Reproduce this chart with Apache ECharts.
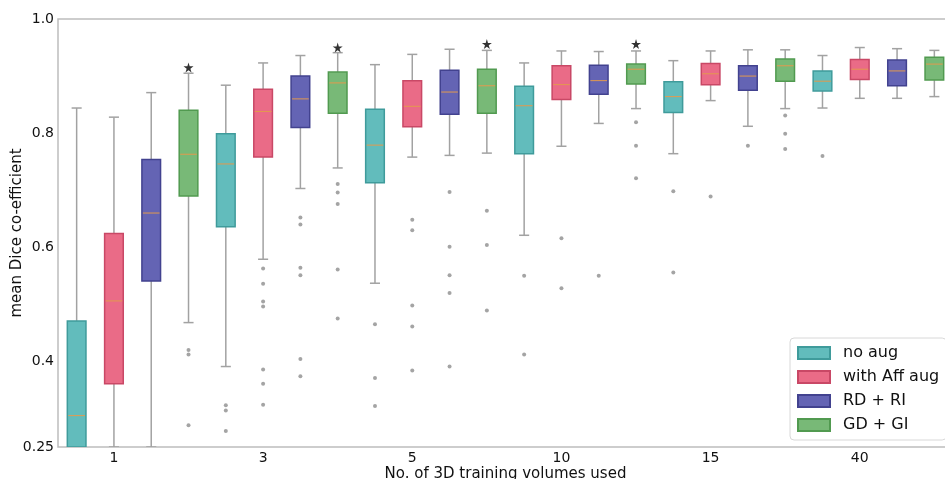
<!DOCTYPE html>
<html>
<head>
<meta charset="utf-8">
<script src="https://cdn.jsdelivr.net/npm/echarts@6/dist/echarts.min.js"></script>
<style>
html, body { margin: 0; padding: 0; background: #fff; }
#main { width: 945px; height: 479px; }
</style>
</head>
<body>
<div id="main"></div>
<script>
var volumes = ['1', '3', '5', '10', '15', '40'];
var methods = ['no aug', 'with Aff aug', 'RD + RI', 'GD + GI'];
var yTicks = [0.25, 0.4, 0.6, 0.8, 1.0];

// [min, Q1, median, Q3, max] for each training-volume count
var noAug = [
	[0.25, 0.25, 0.305, 0.471, 0.844],
	[0.391, 0.636, 0.746, 0.799, 0.884],
	[0.537, 0.713, 0.779, 0.842, 0.920],
	[0.621, 0.764, 0.848, 0.882, 0.923],
	[0.764, 0.836, 0.864, 0.890, 0.927],
	[0.844, 0.874, 0.891, 0.909, 0.936]
];
var withAff = [
	[0.25, 0.361, 0.506, 0.624, 0.828],
	[0.579, 0.758, 0.838, 0.877, 0.923],
	[0.758, 0.811, 0.847, 0.892, 0.938],
	[0.777, 0.859, 0.885, 0.918, 0.944],
	[0.857, 0.885, 0.904, 0.922, 0.944],
	[0.861, 0.894, 0.912, 0.929, 0.950]
];
var rdRi = [
	[0.25, 0.541, 0.660, 0.754, 0.871],
	[0.703, 0.810, 0.860, 0.900, 0.936],
	[0.761, 0.833, 0.872, 0.910, 0.947],
	[0.817, 0.868, 0.892, 0.919, 0.943],
	[0.812, 0.875, 0.900, 0.918, 0.946],
	[0.861, 0.883, 0.909, 0.928, 0.948]
];
var gdGi = [
	[0.468, 0.690, 0.763, 0.840, 0.905],
	[0.739, 0.835, 0.888, 0.907, 0.941],
	[0.765, 0.835, 0.883, 0.912, 0.945],
	[0.843, 0.886, 0.912, 0.921, 0.944],
	[0.843, 0.891, 0.918, 0.930, 0.946],
	[0.864, 0.893, 0.921, 0.933, 0.945]
];

// outliers: [volume index, value]
var noAugOut = [[1, 0.323], [1, 0.314], [1, 0.278], [2, 0.465], [2, 0.371], [2, 0.322],
	[3, 0.550], [3, 0.412], [4, 0.698], [4, 0.556], [5, 0.760]];
var withAffOut = [[1, 0.563], [1, 0.536], [1, 0.505], [1, 0.496], [1, 0.386], [1, 0.361], [1, 0.324],
	[2, 0.648], [2, 0.630], [2, 0.498], [2, 0.461], [2, 0.384], [3, 0.616], [3, 0.528], [4, 0.689]];
var rdRiOut = [[1, 0.652], [1, 0.640], [1, 0.564], [1, 0.551], [1, 0.404], [1, 0.374],
	[2, 0.697], [2, 0.601], [2, 0.551], [2, 0.520], [2, 0.391], [3, 0.550], [4, 0.778]];
var gdGiOut = [[0, 0.420], [0, 0.412], [0, 0.288], [1, 0.711], [1, 0.696], [1, 0.676], [1, 0.561], [1, 0.475],
	[2, 0.664], [2, 0.604], [2, 0.489], [3, 0.819], [3, 0.778], [3, 0.721], [4, 0.831], [4, 0.799], [4, 0.772]];

// significance stars over GD + GI: [volume index, value]
var stars = [[0, 0.915], [1, 0.950], [2, 0.956], [3, 0.956]];

var stats = [noAug, withAff, rdRi, gdGi];
var outliers = [noAugOut, withAffOut, rdRiOut, gdGiOut];

var fills = ['#62bcbc', '#ea6b87', '#6464b4', '#78b977'];
var borders = ['#3f9b9b', '#c94866', '#42428f', '#519a50'];

var slots = [];
volumes.forEach(function (v) {
	methods.forEach(function (m) {
		slots.push(v + ' ' + m);
	});
});

function renderBox(params, api) {
	var i = api.value(0);
	var lo = api.coord([i, api.value(1)]);
	var q1 = api.coord([i, api.value(2)]);
	var med = api.coord([i, api.value(3)]);
	var q3 = api.coord([i, api.value(4)]);
	var hi = api.coord([i, api.value(5)]);
	var slot = api.size([1, 0])[0];
	var bw = slot * 0.5;
	var cw = slot * 0.27;
	var x = lo[0];
	var s = params.seriesIndex;
	var whisk = { stroke: '#a2a2a2', lineWidth: 1.5 };
	return {
		type: 'group',
		children: [
			{ type: 'line', shape: { x1: x, y1: hi[1], x2: x, y2: q3[1] }, style: whisk },
			{ type: 'line', shape: { x1: x, y1: q1[1], x2: x, y2: lo[1] }, style: whisk },
			{ type: 'line', shape: { x1: x - cw / 2, y1: hi[1], x2: x + cw / 2, y2: hi[1] }, style: whisk },
			{ type: 'line', shape: { x1: x - cw / 2, y1: lo[1], x2: x + cw / 2, y2: lo[1] }, style: whisk },
			{
				type: 'rect',
				shape: { x: x - bw / 2, y: q3[1], width: bw, height: q1[1] - q3[1] },
				style: { fill: fills[s], stroke: borders[s], lineWidth: 1.5 }
			},
			{ type: 'line', shape: { x1: x - bw / 2 + 1, y1: med[1], x2: x + bw / 2 - 1, y2: med[1] }, style: { stroke: '#e39a4e', lineWidth: 1 } }
		]
	};
}

var series = [];
methods.forEach(function (m, mi) {
	series.push({
		name: m,
		type: 'custom',
		clip: true,
		renderItem: renderBox,
		itemStyle: { color: fills[mi], borderColor: borders[mi], borderWidth: 1 },
		encode: { x: 0, y: [1, 2, 3, 4, 5] },
		data: stats[mi].map(function (d, gi) {
			return [gi * 4 + mi].concat(d);
		}),
		z: 3
	});
});
methods.forEach(function (m, mi) {
	series.push({
		name: 'outliers ' + m,
		type: 'scatter',
		symbol: 'circle',
		symbolSize: 4,
		itemStyle: { color: '#8d8d8d' },
		data: outliers[mi].map(function (d) {
			return [d[0] * 4 + mi, d[1]];
		}),
		z: 2
	});
});
series.push({
	name: 'significant',
	type: 'scatter',
	symbol: 'path://M50,0 L61,35 L98,35 L68,57 L79,91 L50,70 L21,91 L32,57 L2,35 L39,35 Z',
	symbolSize: 10,
	itemStyle: { color: '#000' },
	data: stars.map(function (d) {
		return [d[0] * 4 + 3, d[1]];
	}),
	z: 4
});

var chart = echarts.init(document.getElementById('main'));
chart.setOption({
	animation: false,
	backgroundColor: '#fff',
	grid: {
		left: 58, right: -8, top: 19, bottom: 32,
		outerBoundsMode: 'none',
		containLabel: false,
		show: true, borderColor: '#bdbdbd', borderWidth: 1.5, backgroundColor: 'transparent'
	},
	legend: {
		data: methods,
		orient: 'vertical',
		left: 790,
		top: 338,
		padding: [7, 7, 7, 7],
		itemWidth: 32,
		itemHeight: 12,
		itemGap: 8,
		icon: 'rect',
		borderColor: '#d8d8d8',
		borderWidth: 1,
		borderRadius: 4,
		backgroundColor: 'rgba(255,255,255,0.85)',
		textStyle: { fontFamily: 'DejaVu Sans', fontSize: 16, color: '#111', lineHeight: 16, padding: [0, 0, 0, 8] }
	},
	xAxis: {
		type: 'category',
		data: slots,
		boundaryGap: true,
		name: 'No. of 3D training volumes used',
		nameLocation: 'middle',
		nameGap: 20,
		nameMoveOverlap: false,
		nameTextStyle: { fontFamily: 'DejaVu Sans', fontSize: 15, color: '#111' },
		axisLine: { show: false },
		axisTick: { show: false },
		axisLabel: {
			interval: function (index) { return index % 4 === 1; },
			formatter: function (v, i) { return volumes[Math.floor(i / 4)]; },
			fontFamily: 'DejaVu Sans', fontSize: 14, color: '#111', margin: 4
		},
		splitLine: { show: false }
	},
	yAxis: {
		type: 'value',
		min: 0.25,
		max: 1.0,
		name: 'mean Dice co-efficient',
		nameLocation: 'middle',
		nameRotate: 90,
		nameGap: 33,
		nameMoveOverlap: false,
		nameTextStyle: { fontFamily: 'DejaVu Sans', fontSize: 15, color: '#111' },
		axisLine: { show: false },
		axisTick: { show: false },
		splitLine: { show: false },
		axisLabel: {
			customValues: yTicks,
			formatter: function (v) { return v === 0.25 ? '0.25' : v.toFixed(1); },
			fontFamily: 'DejaVu Sans', fontSize: 14, color: '#111', margin: 4
		}
	},
	series: series
});
</script>
</body>
</html>
